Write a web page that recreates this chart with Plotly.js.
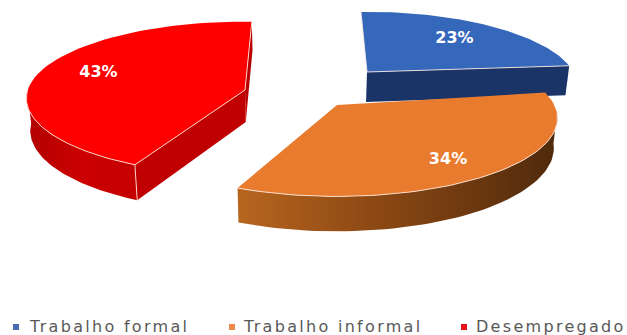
<!DOCTYPE html>
<html>
<head>
<meta charset="utf-8">
<script src="https://cdn.plot.ly/plotly-3.0.1.min.js"></script>
<style>
html,body{margin:0;padding:0;background:#fff}
#chart{width:627px;height:335px}
.annotation-text{letter-spacing:2.3px}
</style>
</head>
<body>
<div id="chart"></div>
<script>
// Employment situation shares, drawn as an exploded 3D pie
const categories = ['Trabalho formal', 'Trabalho informal', 'Desempregado'];
const shares = [23, 34, 43];

const topColors = ['#3567bb', '#e97b2e', '#ff0000'];
const legendColors = ['#4a6cb0', '#ed8a4a', '#e8101c'];

// Scene parameters: tilt, perspective and per-slice explosion
const startDeg = 91, radiusX = 213, radiusY = 74.4;
const vanishX = 300, wallTaper = 0.986;
const apex = [[367, 72], [337, 105], [245, 90]];
const spin = [1, 1.5, -3];
const sweepStretch = [1.05, 1, 1];
const radiusScale = [0.97, 1.02, 1.02];
const perspective = [0.2, 0.17, 0.11];
const thickness = [30, 29, 32];
const labelRadius = [0.68, 0.74, 0.78];
const labelNudge = [[3, 0], [0, 6], [14, -2]];
const rimColor = 'rgba(255,235,225,0.85)';

// Key row along the bottom
const keyY = 326;
const keyMarkerX = [16, 232, 464];
const keyTextX = [29, 243, 476];

const rad = d => d * Math.PI / 180;

function project(i, deg, r, lower) {
  const a = rad(deg + spin[i]);
  const X = r * Math.cos(a), Y = r * Math.sin(a);
  const s = 1 / (1 + perspective[i] * Y);
  let x = apex[i][0] + radiusX * radiusScale[i] * X * s;
  let y = apex[i][1] - radiusY * radiusScale[i] * Y * s;
  if (lower) {
    x = vanishX + (x - vanishX) * wallTaper;
    y += thickness[i] * s;
  }
  return [x, y];
}

function polygon(points, style) {
  return Object.assign({
    x: points.map(p => p[0]), y: points.map(p => p[1]),
    mode: 'lines', fill: 'toself', line: {width: 0},
    hoverinfo: 'skip', showlegend: false, type: 'scatter'
  }, style);
}

function rim(points) {
  return {
    x: points.map(p => p[0]), y: points.map(p => p[1]),
    mode: 'lines', line: {color: rimColor, width: 1},
    hoverinfo: 'skip', showlegend: false, type: 'scatter'
  };
}

function arc(i, from, to, lower) {
  const out = [], n = 60;
  for (let k = 0; k <= n; k++) out.push(project(i, from + (to - from) * k / n, 1, lower));
  return out;
}

const total = shares.reduce((a, b) => a + b, 0);
const spans = [];
let cursor = startDeg;
shares.forEach((v, i) => {
  const sweep = v / total * 360;
  spans.push([cursor, cursor - sweep * sweepStretch[i]]);
  cursor -= sweep;
});

const wallGradients = [
  null,
  {type: 'horizontal', colorscale: [[0, '#b7661f'], [0.4, '#8f4a14'], [0.75, '#6a370f'], [1, '#4f2a0c']]},
  {type: 'horizontal', colorscale: [[0, '#b00000'], [0.5, '#cc0000'], [1, '#c40000']]}
];

const traces = [];

// Blue slice: near radial wall, top
{
  const [a, b] = spans[0];
  traces.push(polygon([project(0, b, 1), project(0, b, 1, true), project(0, b, 0, true), project(0, b, 0)],
    {fillcolor: '#1a3468'}));
  traces.push(polygon(arc(0, a, b).concat([project(0, 0, 0)]), {fillcolor: topColors[0]}));
  traces.push(rim([project(0, a, 1), project(0, 0, 0), project(0, b, 1)]));
}

// Orange slice: curved wall, top
{
  const [a, b] = spans[1];
  const visibleFrom = -8;
  traces.push(polygon(arc(1, visibleFrom, b).concat(arc(1, b, visibleFrom, true)),
    {fillcolor: '#8f4a14', fillgradient: wallGradients[1]}));
  traces.push(polygon(arc(1, a, b).concat([project(1, 0, 0)]), {fillcolor: topColors[1]}));
  traces.push(rim(arc(1, visibleFrom, b)));
}

// Red slice: back radial wall, curved wall, front radial wall, top
{
  const [a, b] = spans[2];
  traces.push(polygon([project(2, b, 1), project(2, b, 1, true), project(2, 0, 0, true), project(2, 0, 0)],
    {fillcolor: '#b80000'}));
  traces.push(polygon(arc(2, a, -176).concat(arc(2, -176, a, true)),
    {fillcolor: '#c80000', fillgradient: wallGradients[2]}));
  traces.push(polygon([project(2, a, 1), project(2, a, 1, true), project(2, 0, 0, true), project(2, 0, 0)],
    {fillcolor: '#c00000'}));
  traces.push(polygon(arc(2, a, b).concat([project(2, 0, 0)]), {fillcolor: topColors[2]}));
  traces.push(rim(arc(2, a, -176)));
  traces.push(rim([project(2, a, 1), project(2, 0, 0), project(2, b, 1)]));
  traces.push(rim([project(2, a, 1), project(2, a, 1, true)]));
}

// Percentage labels near each slice's mid angle
shares.forEach((v, i) => {
  const mid = (spans[i][0] + spans[i][1]) / 2;
  const p = project(i, mid, labelRadius[i]);
  traces.push({
    x: [p[0] + labelNudge[i][0]], y: [p[1] + labelNudge[i][1]],
    mode: 'text', text: [v + '%'], type: 'scatter',
    textposition: 'middle center', hoverinfo: 'skip', showlegend: false,
    textfont: {family: 'DejaVu Sans', size: 16, color: '#ffffff', weight: 700}
  });
});

// Key swatches
traces.push({
  x: keyMarkerX, y: keyMarkerX.map(() => keyY + 1), type: 'scatter', mode: 'markers',
  hoverinfo: 'skip', showlegend: false,
  marker: {symbol: 'square', size: 6, color: legendColors}
});

Plotly.newPlot('chart', traces, {
  width: 627, height: 335,
  margin: {l: 0, r: 0, t: 0, b: 0},
  paper_bgcolor: '#ffffff', plot_bgcolor: '#ffffff',
  xaxis: {range: [0, 627], visible: false, fixedrange: true},
  yaxis: {range: [335, 0], visible: false, fixedrange: true},
  showlegend: false,
  annotations: categories.map((name, i) => ({
    x: keyTextX[i], y: keyY, xref: 'x', yref: 'y', text: name, showarrow: false,
    xanchor: 'left', yanchor: 'middle', borderpad: 0, xshift: -1,
    font: {family: 'DejaVu Sans', size: 16, color: '#595959'}
  }))
}, {staticPlot: true, displayModeBar: false});
</script>
</body>
</html>
